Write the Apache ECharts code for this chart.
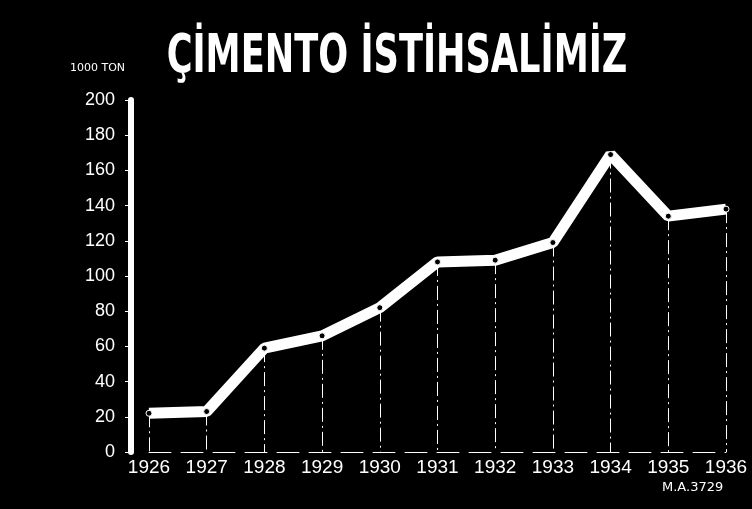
<!DOCTYPE html>
<html><head><meta charset="utf-8">
<script src="https://cdn.jsdelivr.net/npm/echarts@6/dist/echarts.min.js"></script>
<style>html,body{margin:0;padding:0;background:#000;}#c{width:752px;height:509px;}</style>
</head><body><div id="c"></div>
<script>
const years = ['1926','1927','1928','1929','1930','1931','1932','1933','1934','1935','1936'];
const production = [22, 23, 59, 66, 82, 108, 109, 119, 169, 134, 138];
const yTicks = {min: 0, max: 200, interval: 20};
const titleText = 'ÇİMENTO İSTİHSALİMİZ';
const unitText = '1000 TON';
const refText = 'M.A.3729';

const chart = echarts.init(document.getElementById('c'));
const drop = production.map((v, i) => [{coord: [i, v]}, {coord: [i, 0]}]);
chart.setOption({
  backgroundColor: '#000',
  animation: false,
  grid: {left: 149, right: 26, top: 100, bottom: 57},
  graphic: [
    {type: 'text', x: 397, y: 31, scaleX: 0.725,
     style: {text: titleText, fill: '#fff', align: 'center', verticalAlign: 'top',
             font: 'bold 54px "Liberation Sans Narrow", "DejaVu Sans Condensed", sans-serif'}},
    {type: 'text', left: 70, top: 63, style: {text: unitText, fill: '#fff', font: '11px "DejaVu Sans", sans-serif'}},
    {type: 'text', left: 662, top: 481, style: {text: refText, fill: '#fff', font: '13px "DejaVu Sans", sans-serif'}}
  ],
  xAxis: {
    type: 'category', data: years, boundaryGap: false,
    axisLine: {show: true, lineStyle: {color: '#fff', width: 1, type: [22, 10]}},
    axisTick: {show: false},
    axisLabel: {color: '#fff', fontSize: 19, margin: 6, fontFamily: '"Liberation Sans", sans-serif'},
    splitLine: {show: false}
  },
  yAxis: {
    type: 'value', min: yTicks.min, max: yTicks.max, interval: yTicks.interval,
    offset: 18,
    axisLine: {show: true, lineStyle: {color: '#fff', width: 6}},
    axisTick: {show: true, length: 6, lineStyle: {color: '#fff', width: 1}},
    axisLabel: {color: '#fff', fontSize: 18, margin: 16, fontFamily: '"Liberation Sans", sans-serif'},
    splitLine: {show: false}
  },
  series: [{
    type: 'line', data: production,
    lineStyle: {color: '#fff', width: 11},
    symbol: 'circle', symbolSize: 6,
    itemStyle: {color: '#000', borderColor: '#fff', borderWidth: 1},
    z: 3,
    markLine: {
      silent: true, symbol: 'none', label: {show: false},
      lineStyle: {color: '#fff', width: 1, type: [14, 4, 2, 4]},
      data: drop, z: 1
    }
  }]
});
</script></body></html>
